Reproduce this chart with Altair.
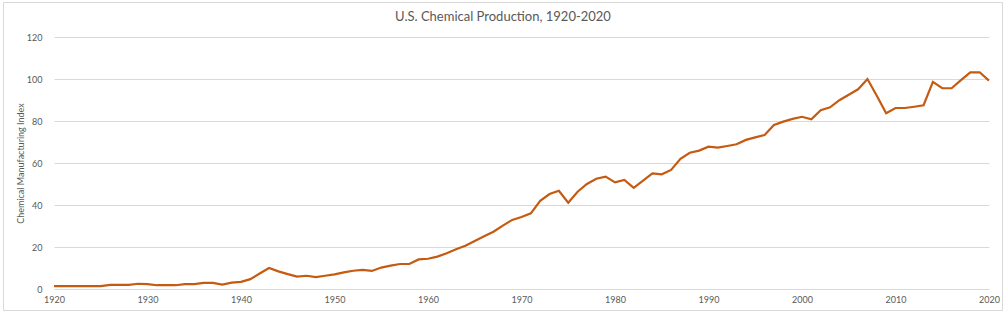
import altair as alt
import pandas as pd

years = list(range(1920, 2021))
index_values = [
    1.4, 1.4, 1.4, 1.4, 1.4, 1.4, 2.0, 2.0, 2.0, 2.5,
    2.3, 1.8, 1.8, 1.8, 2.3, 2.3, 2.9, 2.9, 2.1, 3.0,
    3.4, 4.7, 7.4, 10.0, 8.4, 7.1, 5.9, 6.3, 5.7, 6.3,
    7.0, 7.9, 8.7, 9.1, 8.6, 10.2, 11.1, 11.9, 11.9, 14.1,
    14.4, 15.4, 17.0, 18.9, 20.6, 22.9, 25.1, 27.3, 30.2, 32.9,
    34.3, 36.0, 42.0, 45.2, 46.8, 41.1, 46.3, 50.0, 52.5, 53.5,
    50.8, 51.9, 48.2, 51.6, 55.1, 54.6, 56.7, 62.0, 64.9, 65.9,
    67.8, 67.3, 68.1, 68.9, 71.0, 72.2, 73.3, 78.1, 79.7, 81.0,
    82.0, 80.8, 85.1, 86.5, 89.9, 92.5, 95.1, 100.0, 92.0, 83.7,
    86.2, 86.2, 86.8, 87.5, 98.6, 95.6, 95.6, 99.5, 103.2, 103.2,
    99.2,
]
x_ticks = [1920, 1930, 1940, 1950, 1960, 1970, 1980, 1990, 2000, 2010, 2020]
y_ticks = [0, 20, 40, 60, 80, 100, 120]
chart_title = "U.S. Chemical Production, 1920-2020"
y_title = "Chemical Manufacturing Index"

df = pd.DataFrame({"Year": years, "Index": index_values})

GRAY = "#595959"
FONT = "Lato"

line = alt.Chart(df).mark_line(color="#C55A11", strokeWidth=2.2).encode(
    x=alt.X(
        "Year:Q",
        scale=alt.Scale(domain=[1920, 2020], nice=False, zero=False),
        axis=alt.Axis(
            values=x_ticks, format="d", title=None, grid=False, domain=False,
            ticks=False, labelPadding=6, labelFontSize=9, labelColor=GRAY,
            labelFont=FONT, labelFlush=False,
        ),
    ),
    y=alt.Y(
        "Index:Q",
        scale=alt.Scale(domain=[0, 120], nice=False),
        axis=alt.Axis(
            values=y_ticks, title=y_title, grid=True,
            gridColor="#d9d9d9", gridWidth=1.2, domain=False, ticks=False,
            labelPadding=12, labelFontSize=9, labelColor=GRAY, labelFont=FONT,
            titleFontSize=9, titleColor=GRAY, titleFont=FONT,
            titleFontWeight="normal", titleAngle=270, titleAlign="center",
            titleBaseline="middle", titleX=-34, titleY=126,
        ),
    ),
)

border = alt.Chart(alt.Data(values=[{"a": 1}])).mark_rect(
    fillOpacity=0, strokeWidth=1
).encode(
    x=alt.value(-50.5), x2=alt.value(948.5), y=alt.value(-34.5), y2=alt.value(273.5),
    stroke=alt.value("#d9d9d9"),
)

title = alt.Chart(alt.Data(values=[{"t": chart_title}])).mark_text(
    fontSize=13, font=FONT, color=GRAY, align="center", baseline="middle"
).encode(
    text="t:N", x=alt.value(449), y=alt.value(-20)
)

chart = alt.layer(border, line, title).properties(
    width=935,
    height=252,
    padding={"left": 54, "top": 37, "right": 19, "bottom": 25},
    autosize=alt.AutoSizeParams(type="none"),
).configure_view(stroke=None)

chart.save("out.html", embed_options={"renderer": "svg", "actions": False})
